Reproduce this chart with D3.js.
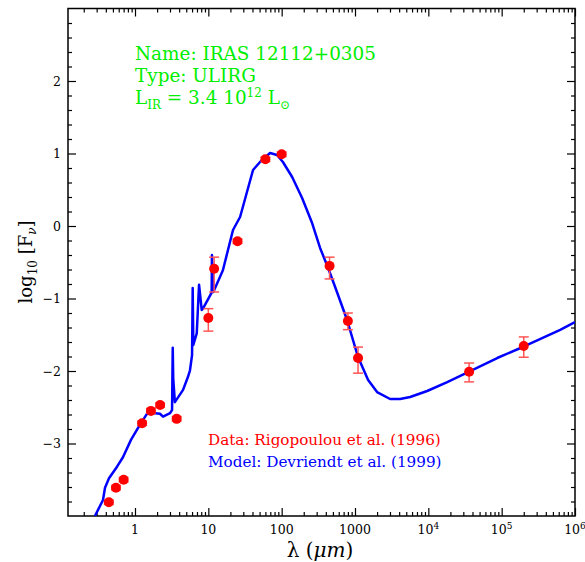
<!DOCTYPE html>
<html><head><meta charset="utf-8">
<script src="https://cdn.jsdelivr.net/npm/d3@7"></script>
<style>body{margin:0;background:#fff}</style></head>
<body><svg id="c" width="585" height="562"></svg>
<script>
// Model SED (Devriendt et al. 1999): wavelength in micron, log10 F_nu
const modelLambda = [0.284,0.366,0.39,0.442,0.569,0.685,0.881,1.17,1.50,1.76,2.19,2.41,3.01,3.20,3.27,3.32,3.50,4.52,5.28,5.62,6.0,6.12,6.24,6.95,7.47,8.13,8.55,11.1,11.2,11.7,15.8,21.7,27.1,40.7,50.7,69.5,86.5,104,139,190,260,334,430,536,780,1100,1510,2000,3010,4130,5650,9640,18100,34900,86900,209000,628000,1000000];
const modelLogF = [-4.0,-3.78,-3.61,-3.48,-3.32,-3.19,-2.95,-2.74,-2.57,-2.58,-2.59,-2.63,-2.58,-2.54,-1.68,-2.10,-2.43,-2.26,-2.08,-1.99,-1.78,-0.855,-1.64,-1.48,-0.81,-1.16,-1.13,-0.92,-0.40,-0.91,-0.61,-0.055,0.124,0.772,0.883,1.007,0.979,0.883,0.676,0.386,0.041,-0.303,-0.579,-0.841,-1.297,-1.807,-2.124,-2.29,-2.386,-2.386,-2.359,-2.276,-2.152,-2.014,-1.821,-1.655,-1.434,-1.324];

// Photometry (Rigopoulou et al. 1996)
const dataLambda = [0.44,0.55,0.70,1.25,1.65,2.2,3.7,10,12,25,60,100,450,800,1100,36000,200000];
const dataLogF   = [-3.81,-3.61,-3.50,-2.72,-2.55,-2.47,-2.66,-1.27,-0.59,-0.21,0.92,0.99,-0.55,-1.31,-1.82,-2.01,-1.655];
const dataErrHi  = [-3.78,-3.58,-3.47,-2.69,-2.52,-2.44,-2.63,-1.14,-0.43,-0.18,0.95,1.02,-0.43,-1.20,-1.67,-1.89,-1.53];
const dataErrLo  = [-3.84,-3.64,-3.53,-2.75,-2.58,-2.50,-2.69,-1.45,-0.91,-0.24,0.89,0.96,-0.73,-1.43,-2.03,-2.15,-1.81];

const xTickValues = [1,10,100,1000,1e4,1e5,1e6];
const xTickBase   = ["1","10","100","1000","10","10","10"];
const xTickExp    = ["","","","","4","5","6"];
const yTickValues = [-3,-2,-1,0,1,2];
const yTickLabels = ["\u22123","\u22122","\u22121","0","1","2"];

const L = 68, R = 575, T = 8.5, B = 516;
const svg = d3.select("#c");
const x = d3.scaleLog().domain([0.122, 1e6]).range([L, R]);
const y = d3.scaleLinear().domain([-4, 3]).range([B, T]);

// minor ticks
const xMinor = [];
for (let e = -1; e < 6; e++) for (let k = 2; k <= 9; k++) { const v = k * Math.pow(10, e); if (v >= 0.122 && v <= 1e6) xMinor.push(v); }
const yMinor = d3.range(-4, 3.001, 0.2).map(v => +v.toFixed(2)).filter(v => Math.abs(v - Math.round(v)) > 1e-6);

function ax(gen, tx, ty, vals, size) {
  const g = svg.append("g").attr("transform", `translate(${tx},${ty})`)
    .call(gen.tickValues(vals).tickSize(-size).tickSizeOuter(0).tickFormat(""));
  g.select(".domain").remove();
  g.selectAll("line").attr("stroke", "#000").attr("stroke-width", 1.2);
}
ax(d3.axisBottom(x), 0, B, xTickValues, 8);
ax(d3.axisBottom(x), 0, B, xMinor, 4);
ax(d3.axisTop(x), 0, T, xTickValues, 8);
ax(d3.axisTop(x), 0, T, xMinor, 4);
ax(d3.axisLeft(y), L, 0, yTickValues, 8);
ax(d3.axisLeft(y), L, 0, yMinor, 4);
ax(d3.axisRight(y), R, 0, yTickValues, 8);
ax(d3.axisRight(y), R, 0, yMinor, 4);

svg.append("rect").attr("x", L).attr("y", T).attr("width", R - L).attr("height", B - T)
  .attr("fill", "none").attr("stroke", "#000").attr("stroke-width", 1.5);

const serif = "'DejaVu Serif', serif";
// x tick labels
const xl = svg.append("g").attr("font-family", serif).attr("font-size", 12.5);
xTickValues.forEach((v, i) => {
  const t = xl.append("text").attr("x", x(v)).attr("y", 534).attr("text-anchor", "middle");
  t.append("tspan").text(xTickBase[i]);
  if (xTickExp[i]) t.append("tspan").attr("dy", -5).attr("font-size", 9).text(xTickExp[i]);
});
// y tick labels
const yl = svg.append("g").attr("font-family", serif).attr("font-size", 12.5);
yTickValues.forEach((v, i) => {
  yl.append("text").attr("x", 61).attr("y", y(v) + 4.5).attr("text-anchor", "end").text(yTickLabels[i]);
});

// axis titles
const xt = svg.append("text").attr("x", 320).attr("y", 557).attr("text-anchor", "middle")
  .attr("font-family", serif).attr("font-size", 20);
xt.append("tspan").text("\u03bb (");
xt.append("tspan").attr("font-style", "italic").text("\u03bcm");
xt.append("tspan").text(")");

const yt = svg.append("text").attr("transform", "translate(32,262) rotate(-90)").attr("text-anchor", "middle")
  .attr("font-family", serif).attr("font-size", 18);
yt.append("tspan").text("log");
yt.append("tspan").attr("dy", 5).attr("font-size", 12).text("10");
yt.append("tspan").attr("dy", -5).text(" [F");
yt.append("tspan").attr("dy", 4).attr("font-size", 12).attr("font-style", "italic").text("\u03bd");
yt.append("tspan").attr("dy", -4).text("]");

// clip
svg.append("clipPath").attr("id", "clip").append("rect").attr("x", L).attr("y", T).attr("width", R - L).attr("height", B - T);
const plot = svg.append("g").attr("clip-path", "url(#clip)");

// model line
const line = d3.line().x((d, i) => x(modelLambda[i])).y((d, i) => y(modelLogF[i]));
plot.append("path").datum(modelLambda).attr("d", line).attr("fill", "none")
  .attr("stroke", "#0000ff").attr("stroke-width", 2.5).attr("stroke-linejoin", "round");

// error bars
const eb = plot.append("g").attr("stroke", "#ff5555").attr("stroke-width", 1.5);
dataLambda.forEach((l, i) => {
  const cx = x(l), y1 = y(dataErrHi[i]), y2 = y(dataErrLo[i]);
  eb.append("line").attr("x1", cx).attr("x2", cx).attr("y1", y1).attr("y2", y2);
  eb.append("line").attr("x1", cx - 5).attr("x2", cx + 5).attr("y1", y1).attr("y2", y1);
  eb.append("line").attr("x1", cx - 5).attr("x2", cx + 5).attr("y1", y2).attr("y2", y2);
});
plot.append("g").selectAll("circle").data(dataLambda).join("circle")
  .attr("cx", d => x(d)).attr("cy", (d, i) => y(dataLogF[i])).attr("r", 5).attr("fill", "#ff0000");

// annotations
const green = "#00ee00";
const ann = svg.append("g").attr("font-family", serif).attr("font-size", 18.4).attr("fill", green)
  .attr("style", "white-space:pre");
ann.append("text").attr("x", 135).attr("y", 60).text("Name: IRAS 12112+0305");
ann.append("text").attr("x", 135).attr("y", 82).text("Type: ULIRG");
const lt = ann.append("text").attr("x", 135).attr("y", 104);
lt.append("tspan").text("L");
lt.append("tspan").attr("dy", 5).attr("font-size", 12).text("IR");
lt.append("tspan").attr("dy", -5).text("  =  3.4  10");
lt.append("tspan").attr("dy", -7).attr("font-size", 12).text("12");
lt.append("tspan").attr("dy", 7).text("  L");
lt.append("tspan").attr("dy", 5).attr("font-size", 12).text("\u2299");

const leg = svg.append("g").attr("font-family", serif).attr("font-size", 15.2);
leg.append("text").attr("x", 208).attr("y", 445).attr("fill", "#ff0000").text("Data: Rigopoulou et al. (1996)");
leg.append("text").attr("x", 208).attr("y", 467).attr("fill", "#0000ff").text("Model: Devriendt et al. (1999)");
</script></body></html>
